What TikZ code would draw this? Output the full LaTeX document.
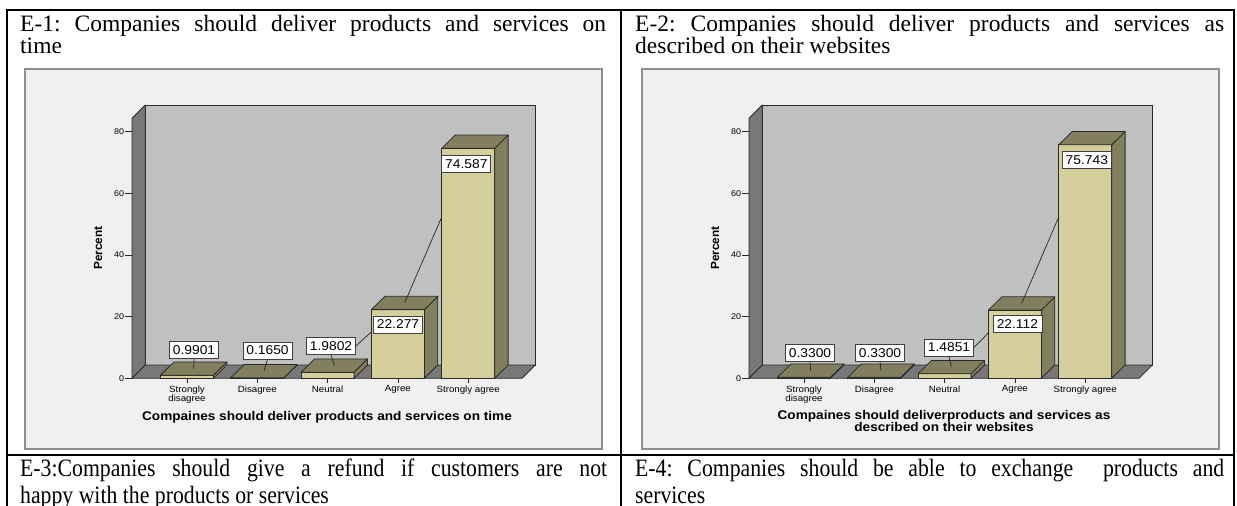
\documentclass[tikz,border=0pt]{standalone}
\usepackage{fontspec}
\setmainfont{Liberation Serif}
\newfontfamily\chartfont[FakeStretch=1.08]{Liberation Sans}
\newfontfamily\plainsans{Liberation Sans}
\newfontfamily\narrowserif[FakeStretch=0.87]{Liberation Serif}
\usetikzlibrary{calc}
\frenchspacing

\definecolor{framefill}{HTML}{F0F0F0}
\definecolor{frameline}{HTML}{8E8E8E}
\definecolor{wallback}{HTML}{C0C0C0}
\definecolor{walldark}{HTML}{787878}
\definecolor{edgeline}{HTML}{2A2A2A}
\definecolor{barfront}{HTML}{D4CF9B}
\definecolor{barside}{HTML}{827F5E}

\tikzset{
  tblline/.style={line width=2pt, black},
  chartframe/.style={fill=framefill, draw=frameline, line width=1.4pt},
  face/.style={draw=edgeline, line width=0.8pt, line join=round},
  axisline/.style={draw=edgeline, line width=0.8pt},
  valbox/.style={draw=black!75, fill=white, line width=0.8pt,
    font=\chartfont\fontsize{12.8}{13}\selectfont, inner sep=0pt,
    minimum width=49pt, minimum height=17pt},
  leader/.style={draw=black!85, line width=0.7pt},
  ticklab/.style={font=\chartfont\fontsize{8.3}{8.3}\selectfont, anchor=east, inner sep=0pt},
  catlab/.style={font=\chartfont\fontsize{9}{7.6}\selectfont, align=center, anchor=north, inner sep=0pt},
  axtitle/.style={font=\chartfont\bfseries\fontsize{12.6}{10.2}\selectfont, align=center, anchor=north, inner sep=0pt},
  ylab/.style={font=\plainsans\bfseries\fontsize{11.8}{12}\selectfont, rotate=90, inner sep=0pt},
  celltext/.style={font=\fontsize{23.5}{22}\selectfont, anchor=base west, inner sep=0pt},
  celltextb/.style={font=\narrowserif\fontsize{25}{22}\selectfont, anchor=base west, inner sep=0pt},
}

% 3-D bar chart geometry
\def\baseY{378.3}
\def\unitY{3.0825}
\def\dX{13.4}
\def\dY{13.3}

% one 3-D bar: #1 name prefix, #2 category index (0-4), #3 value in percent
\newcommand{\spssbar}[3]{%
  \pgfmathsetmacro{\cx}{187+70.3*#2}%
  \pgfmathsetmacro{\xl}{\cx-26.5}%
  \pgfmathsetmacro{\xr}{\cx+26.5}%
  \pgfmathsetmacro{\yt}{\baseY-\unitY*#3}%
  \coordinate (#1bl) at (\xl,\baseY);
  \coordinate (#1br) at (\xr,\baseY);
  \coordinate (#1tl) at (\xl,\yt);
  \coordinate (#1tr) at (\xr,\yt);
  \filldraw[face, fill=barfront] (#1bl) rectangle (#1tr);
  \filldraw[face, fill=barside] (#1br) -- ($(#1br)+(\dX,-\dY)$) -- ($(#1tr)+(\dX,-\dY)$) -- (#1tr) -- cycle;
  \filldraw[face, fill=barside] (#1tl) -- (#1tr) -- ($(#1tr)+(\dX,-\dY)$) -- ($(#1tl)+(\dX,-\dY)$) -- cycle;
  \coordinate (#1top) at ($(\cx,\yt)+(0.5*\dX,-0.5*\dY)$);
  \coordinate (#1edge) at (\xl,217);
}

% frame, walls, floor and axes of one chart: #1 name prefix
\newcommand{\chartbase}[1]{%
  \filldraw[chartframe] (25,69) rectangle (602,449);
  \filldraw[face, fill=wallback] (145.3,105) rectangle (535.3,365);
  \filldraw[face, fill=walldark] (132,\baseY) -- (132,118.3) -- (145.3,105) -- (145.3,365) -- cycle;
  \filldraw[face, fill=walldark] (132,\baseY) -- (522,\baseY) -- (535.3,365) -- (145.3,365) -- cycle;
  \foreach \v in {0,20,40,60,80} {
    \draw[axisline] (125,{\baseY-\unitY*\v}) -- (132,{\baseY-\unitY*\v});
    \node[ticklab] (#1tick\v) at (124.3,{\baseY-\unitY*\v}) {\v};
  }
  \foreach \i/\t in {0/{Strongly\\disagree},1/{Disagree},2/{Neutral},3/{Agree},4/{Strongly agree}} {
    \draw[axisline] ({187+70.3*\i},\baseY) -- ({187+70.3*\i},382.8);
    \node[catlab] (#1cat\i) at ({187+70.3*\i},385.6) {\t};
  }
  \node[ylab] (#1ylab) at (98,248) {Percent};
}

\begin{document}
\begin{tikzpicture}[x=1pt, y=-1pt]
\useasboundingbox (0,0) rectangle (1237,506);
\clip (0,0) rectangle (1237,506);
\fill[white] (0,0) rectangle (1237,506);

% ---------- left chart: delivery on time ----------
\begin{scope}
  \chartbase{L}
  \spssbar{La}{0}{0.9901}
  \spssbar{Lb}{1}{0.1650}
  \spssbar{Lc}{2}{1.9802}
  \spssbar{Ld}{3}{22.277}
  \spssbar{Le}{4}{74.587}
  \node[valbox] (Lva) at (194,350) {0.9901};
  \node[valbox] (Lvb) at (267.5,350.5) {0.1650};
  \node[valbox] (Lvc) at (331,346) {1.9802};
  \node[valbox] (Lvd) at (398,324.5) {22.277};
  \node[valbox] (Lve) at (466.3,163.7) {74.587};
  \draw[leader] (Lva.south) -- (Latop);
  \draw[leader] (Lvb.south) -- (Lbtop);
  \draw[leader] (Lvc.south) -- (Lctop);
  \draw[leader] (Ldtop) -- (Leedge);
  \draw[leader] (Lvc.east) -- (371.2,332);
  \node[axtitle] (Ltitle) at (327,410.8) {Compaines should deliver products and services on time};
\end{scope}

% ---------- right chart: delivery as described ----------
\begin{scope}[xshift=617pt]
  \chartbase{R}
  \spssbar{Ra}{0}{0.3300}
  \spssbar{Rb}{1}{0.3300}
  \spssbar{Rc}{2}{1.4851}
  \spssbar{Rd}{3}{22.112}
  \spssbar{Re}{4}{75.743}
  \node[valbox] (Rva) at (193,353) {0.3300};
  \node[valbox] (Rvb) at (263,353) {0.3300};
  \node[valbox] (Rvc) at (332,347.5) {1.4851};
  \node[valbox] (Rvd) at (400.4,324) {22.112};
  \node[valbox] (Rve) at (469.8,160.3) {75.743};
  \draw[leader] (Rva.south) -- (Ratop);
  \draw[leader] (Rvb.south) -- (Rbtop);
  \draw[leader] (Rvc.south) -- (Rctop);
  \draw[leader] (Rdtop) -- (Reedge);
  \draw[leader] (Rvc.east) -- (371.2,333);
  \node[axtitle] (Rtitle) at (327,409.8) {Compaines should deliverproducts and services as\\described on their websites};
\end{scope}

% ---------- table rules ----------
\draw[tblline] (6,10) -- (1235,10);
\draw[tblline] (7,9) -- (7,506);
\draw[tblline] (621,9) -- (621,506);
\draw[tblline] (1234,9) -- (1234,506);
\draw[tblline, line width=2.8pt] (6,455) -- (1235,455);

% ---------- cell captions ----------
\node[celltext] (E1a) at (20,31) {\makebox[586pt][s]{E-1: Companies should deliver products and services on}};
\node[celltext] (E1b) at (20,53) {time};
\node[celltext] (E2a) at (635,31) {\makebox[589pt][s]{E-2: Companies should deliver products and services as}};
\node[celltext] (E2b) at (635,53) {described on their websites};
\node[celltextb] (E3a) at (20,476) {\makebox[587pt][s]{E-3:Companies should give a refund if customers are not}};
\node[celltextb] (E3b) at (20,503) {happy with the products or services};
\node[celltextb] (E4a) at (635,476) {\makebox[589pt][s]{E-4: Companies should be able to exchange\ \ products and}};
\node[celltextb] (E4b) at (635,503) {services};
\end{tikzpicture}
\end{document}
